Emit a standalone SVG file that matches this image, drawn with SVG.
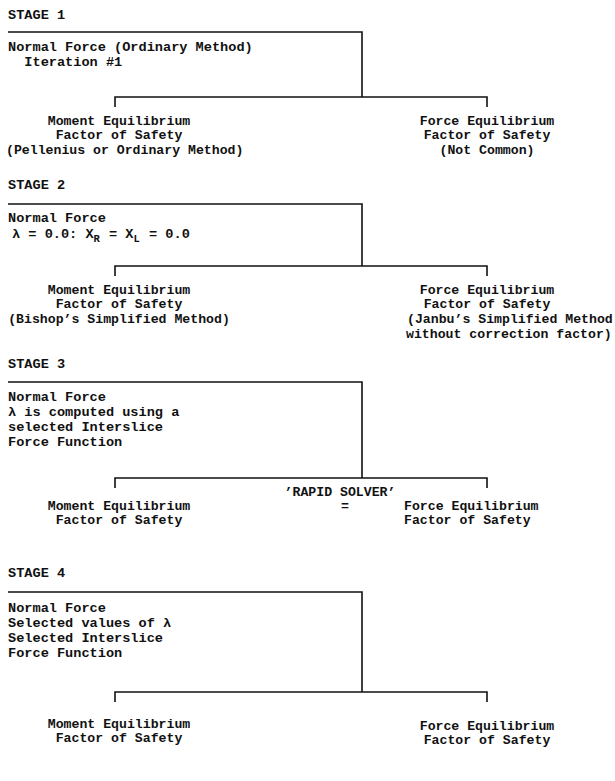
<svg xmlns="http://www.w3.org/2000/svg" width="615" height="781" viewBox="0 0 615 781">
<style>
text{font-family:"Liberation Mono","DejaVu Sans Mono",monospace;font-size:13.2px;font-weight:bold;fill:#111}
.b{font-size:13.6px}
.c{text-anchor:middle}
.ln{stroke:#111;stroke-width:1.6;fill:none}
.sub{font-size:10.5px}
</style>
<rect width="615" height="781" fill="#fff"/>
<g id="connectors">
<path class="ln" d="M8 32H362V97M115 107V97H487V107"/>
<path class="ln" d="M8 204H362V266M115 276V266H487V276"/>
<path class="ln" d="M8 382H362V478M115 488V478H487V488"/>
<path class="ln" d="M8 592H362V692M115 702V692H487V702"/>
</g>
<g id="stage1">
<text class="b" x="8" y="19">STAGE 1</text>
<g id="s1-normal"><text class="b" x="8" y="51">Normal Force (Ordinary Method)</text><text class="b" x="8" y="66" xml:space="preserve">  Iteration #1</text></g>
<g id="s1-moment"><text class="c" x="119" y="125">Moment Equilibrium</text><text class="c" x="119" y="139">Factor of Safety</text><text x="6" y="154">(Pellenius or Ordinary Method)</text></g>
<g id="s1-force"><text class="c" x="487" y="125">Force Equilibrium</text><text class="c" x="487" y="139">Factor of Safety</text><text class="c" x="487" y="154">(Not Common)</text></g>
</g>
<g id="stage2">
<text class="b" x="8" y="189">STAGE 2</text>
<g id="s2-normal"><text class="b" x="8" y="222">Normal Force</text><text class="b" x="12" y="238">λ = 0.0: X<tspan class="sub" dy="4">R</tspan><tspan dx="1" dy="-4"> = X</tspan><tspan class="sub" dy="4">L</tspan><tspan dx="1" dy="-4"> = 0.0</tspan></text></g>
<g id="s2-moment"><text class="c" x="119" y="294">Moment Equilibrium</text><text class="c" x="119" y="308">Factor of Safety</text><text class="c" x="119" y="323">(Bishop’s Simplified Method)</text></g>
<g id="s2-force"><text class="c" x="487" y="294">Force Equilibrium</text><text class="c" x="487" y="308">Factor of Safety</text><text x="407" y="323">(Janbu’s Simplified Method</text><text x="406" y="338">without correction factor)</text></g>
</g>
<g id="stage3">
<text class="b" x="8" y="368">STAGE 3</text>
<g id="s3-normal"><text class="b" x="8" y="401">Normal Force</text><text class="b" x="8" y="416">λ is computed using a</text><text class="b" x="8" y="431">selected Interslice</text><text class="b" x="8" y="446">Force Function</text></g>
<text id="s3-rapid" class="c" x="340" y="496">’RAPID SOLVER’</text>
<g id="s3-moment"><text class="c" x="119" y="510">Moment Equilibrium</text><text class="c" x="119" y="524">Factor of Safety</text></g>
<text id="s3-eq" class="c" x="345" y="510">=</text>
<g id="s3-force"><text x="404" y="510">Force Equilibrium</text><text x="404" y="524">Factor of Safety</text></g>
</g>
<g id="stage4">
<text class="b" x="8" y="577">STAGE 4</text>
<g id="s4-normal"><text class="b" x="8" y="612">Normal Force</text><text class="b" x="8" y="627">Selected values of λ</text><text class="b" x="8" y="642">Selected Interslice</text><text class="b" x="8" y="657">Force Function</text></g>
<g id="s4-moment"><text class="c" x="119" y="728">Moment Equilibrium</text><text class="c" x="119" y="742">Factor of Safety</text></g>
<g id="s4-force"><text class="c" x="487" y="730">Force Equilibrium</text><text class="c" x="487" y="744">Factor of Safety</text></g>
</g>
</svg>
